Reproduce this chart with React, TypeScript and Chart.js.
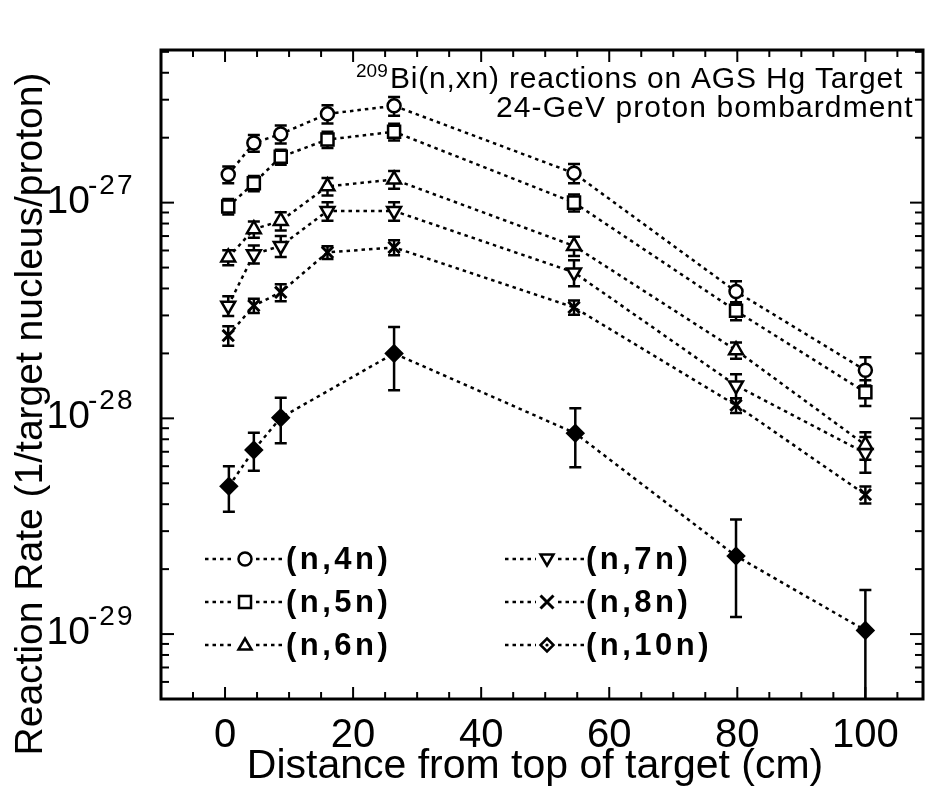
import React, { useEffect, useRef } from "react";
import { Chart, registerables } from "chart.js";

Chart.register(...registerables);

// ---- data ----
const distances = [0.5, 4.5, 8.7, 16, 26.4, 54.5, 79.8, 100];
const distancesN10 = [0.6, 4.5, 8.7, 26.4, 54.7, 79.8, 100];

const rateN4 = [1.35e-27, 1.89e-27, 2.08e-27, 2.58e-27, 2.81e-27, 1.37e-27, 3.87e-28, 1.67e-28];
const errN4 = [1.2e-28, 1.7e-28, 2.0e-28, 2.5e-28, 2.8e-28, 1.4e-28, 4.5e-29, 2.5e-29];

const rateN5 = [9.6e-28, 1.23e-27, 1.63e-27, 1.96e-27, 2.13e-27, 1.0e-27, 3.15e-28, 1.32e-28];
const errN5 = [8e-29, 1.0e-28, 1.3e-28, 1.7e-28, 1.9e-28, 9e-29, 3e-29, 1.8e-29];

const rateN6 = [5.57e-28, 7.53e-28, 8.23e-28, 1.19e-27, 1.28e-27, 6.3e-28, 2.07e-28, 7.53e-29];
const errN6 = [4.5e-29, 6.5e-29, 8e-29, 1.1e-28, 1.2e-28, 6.5e-29, 1.8e-29, 1.1e-29];

const rateN7 = [3.33e-28, 5.77e-28, 6.3e-28, 9.15e-28, 9.15e-28, 4.75e-28, 1.42e-28, 6.9e-29];
const errN7 = [3.5e-29, 5.5e-29, 7e-29, 9e-29, 9e-29, 6.5e-29, 1.8e-29, 1.3e-29];

const rateN8 = [2.42e-28, 3.33e-28, 3.84e-28, 5.88e-28, 6.2e-28, 3.27e-28, 1.15e-28, 4.43e-29];
const errN8 = [2.5e-29, 2.5e-29, 3.5e-29, 4e-29, 5e-29, 2.5e-29, 9e-30, 4e-30];

const rateN10 = [4.84e-29, 7.14e-29, 1.007e-28, 2.0e-28, 8.53e-29, 2.3e-29, 1.04e-29];
const errN10 = [1.15e-29, 1.43e-29, 2.4e-29, 6.5e-29, 2.6e-29, 1.1e-29, 5.6e-30];

const seriesLabels = ["(n,4n)", "(n,5n)", "(n,6n)", "(n,7n)", "(n,8n)", "(n,10n)"];
const seriesMarkers = ["circle", "square", "triangle", "triangleDown", "cross", "diamond"];

const xTickLabels = [0, 20, 40, 60, 80, 100];
const xMinorStep = 5;
const yTickExponents = [-27, -28, -29];

const titleSup = "209";
const titleLine1 = "Bi(n,xn) reactions on AGS Hg Target";
const titleLine2 = "24-GeV proton bombardment";
const xTitle = "Distance from top of target (cm)";
const yTitle = "Reaction Rate (1/target nucleus/proton)";

const FONT = '"Liberation Sans", Arial, Helvetica, sans-serif';

function drawMarker(ctx: CanvasRenderingContext2D, kind: string, x: number, y: number, s: number) {
  ctx.save();
  ctx.lineWidth = 2.5;
  ctx.strokeStyle = "#000";
  ctx.fillStyle = "#fff";
  ctx.setLineDash([]);
  ctx.beginPath();
  if (kind === "circle") {
    ctx.arc(x, y, s, 0, Math.PI * 2);
    ctx.fill();
    ctx.stroke();
  } else if (kind === "square") {
    ctx.rect(x - s, y - s, 2 * s, 2 * s);
    ctx.fill();
    ctx.stroke();
  } else if (kind === "triangle") {
    ctx.moveTo(x, y - s);
    ctx.lineTo(x + s, y + s * 0.7);
    ctx.lineTo(x - s, y + s * 0.7);
    ctx.closePath();
    ctx.fill();
    ctx.stroke();
  } else if (kind === "triangleDown") {
    ctx.moveTo(x, y + s);
    ctx.lineTo(x + s, y - s * 0.7);
    ctx.lineTo(x - s, y - s * 0.7);
    ctx.closePath();
    ctx.fill();
    ctx.stroke();
  } else if (kind === "cross") {
    ctx.lineWidth = 3;
    ctx.moveTo(x - s, y - s);
    ctx.lineTo(x + s, y + s);
    ctx.moveTo(x + s, y - s);
    ctx.lineTo(x - s, y + s);
    ctx.stroke();
  } else if (kind === "diamond") {
    ctx.moveTo(x, y - s);
    ctx.lineTo(x + s, y);
    ctx.lineTo(x, y + s);
    ctx.lineTo(x - s, y);
    ctx.closePath();
    ctx.fill();
    ctx.stroke();
    ctx.beginPath();
    ctx.fillStyle = "#000";
    ctx.arc(x, y, 1.6, 0, Math.PI * 2);
    ctx.fill();
  }
  ctx.restore();
}

const seriesX = [distances, distances, distances, distances, distances, distancesN10];
const seriesY = [rateN4, rateN5, rateN6, rateN7, rateN8, rateN10];
const seriesErr = [errN4, errN5, errN6, errN7, errN8, errN10];

const errorBarPlugin = {
  id: "errorBars",
  beforeDatasetsDraw(chart: any) {
    const { ctx, chartArea: a, scales } = chart;
    const xs = scales.x;
    const ys = scales.y;
    ctx.save();
    ctx.beginPath();
    ctx.rect(a.left, a.top, a.right - a.left, a.bottom - a.top);
    ctx.clip();
    ctx.strokeStyle = "#000";
    ctx.lineWidth = 2.5;
    ctx.setLineDash([]);
    seriesY.forEach((vals, i) => {
      vals.forEach((v, j) => {
        const e = seriesErr[i][j];
        const px = xs.getPixelForValue(seriesX[i][j]);
        const top = ys.getPixelForValue(v + e);
        const lowV = v - e;
        const bot = lowV > 0 ? ys.getPixelForValue(lowV) : a.bottom + 20;
        ctx.beginPath();
        ctx.moveTo(px, top);
        ctx.lineTo(px, bot);
        ctx.moveTo(px - 6, top);
        ctx.lineTo(px + 6, top);
        ctx.moveTo(px - 6, bot);
        ctx.lineTo(px + 6, bot);
        ctx.stroke();
      });
    });
    ctx.restore();
  },
};

const decorPlugin = {
  id: "decor",
  afterDraw(chart: any) {
    const { ctx, chartArea: a, scales } = chart;
    const xs = scales.x;
    const ys = scales.y;
    ctx.save();
    ctx.strokeStyle = "#000";
    ctx.fillStyle = "#000";
    ctx.setLineDash([]);

    // frame
    ctx.lineWidth = 3;
    ctx.strokeRect(a.left, a.top, a.right - a.left, a.bottom - a.top);

    // x ticks (inward, top and bottom)
    ctx.lineWidth = 2;
    const line = (x1: number, y1: number, x2: number, y2: number) => {
      ctx.beginPath();
      ctx.moveTo(x1, y1);
      ctx.lineTo(x2, y2);
      ctx.stroke();
    };
    for (let v = Math.ceil(xs.min / xMinorStep) * xMinorStep; v <= xs.max; v += xMinorStep) {
      const px = xs.getPixelForValue(v);
      const major = xTickLabels.includes(v);
      const len = major ? 12 : 7;
      line(px, a.bottom, px, a.bottom - len);
      line(px, a.top, px, a.top + len);
    }
    // y ticks (log)
    const minE = Math.floor(Math.log10(ys.min));
    const maxE = Math.ceil(Math.log10(ys.max));
    for (let e = minE; e <= maxE; e++) {
      for (let m = 1; m <= 9; m++) {
        const v = m * Math.pow(10, e);
        if (v < ys.min || v > ys.max) continue;
        const py = ys.getPixelForValue(v);
        const len = m === 1 ? 13 : 8;
        line(a.left, py, a.left + len, py);
        line(a.right, py, a.right - len, py);
      }
    }

    // x tick labels
    ctx.font = `40px ${FONT}`;
    ctx.textAlign = "center";
    ctx.textBaseline = "alphabetic";
    xTickLabels.forEach((v) => {
      ctx.fillText(String(v), xs.getPixelForValue(v), 747);
    });

    // y tick labels 10^exp
    yTickExponents.forEach((e) => {
      const py = ys.getPixelForValue(Math.pow(10, e));
      ctx.font = `39px ${FONT}`;
      ctx.textAlign = "right";
      ctx.fillText("10", 90, py + 10);
      ctx.font = `28px ${FONT}`;
      ctx.textAlign = "left";
      (ctx as any).letterSpacing = "2px";
      ctx.fillText(String(e), 88, py - 9);
      (ctx as any).letterSpacing = "0px";
    });

    // axis titles
    ctx.font = `41px ${FONT}`;
    ctx.textAlign = "center";
    ctx.fillText(xTitle, 535, 778);
    ctx.save();
    ctx.translate(42, 414);
    ctx.rotate(-Math.PI / 2);
    ctx.font = `39px ${FONT}`;
    ctx.fillText(yTitle, 0, 0);
    ctx.restore();

    // in-plot title
    ctx.textAlign = "left";
    ctx.font = `19px ${FONT}`;
    ctx.fillText(titleSup, 356, 77);
    ctx.font = `30px ${FONT}`;
    (ctx as any).letterSpacing = "0.8px";
    ctx.fillText(titleLine1, 390, 88);
    (ctx as any).letterSpacing = "1.1px";
    ctx.fillText(titleLine2, 496, 117);
    (ctx as any).letterSpacing = "0px";

    // legend
    const rows = [559, 602, 645];
    const cols = [
      { l1: 205, l2: 234, m: 245, r1: 256, r2: 283, t: 286 },
      { l1: 505, l2: 536, m: 547, r1: 558, r2: 585, t: 586 },
    ];
    seriesLabels.forEach((lab, i) => {
      const c = cols[Math.floor(i / 3)];
      const y = rows[i % 3];
      ctx.save();
      ctx.lineWidth = 2.5;
      ctx.setLineDash([3.5, 4]);
      line(c.l1, y, c.l2, y);
      line(c.r1, y, c.r2, y);
      ctx.restore();
      drawMarker(ctx, seriesMarkers[i], c.m, y, seriesMarkers[i] === "square" ? 6 : 6.5);
      ctx.font = `bold 31px ${FONT}`;
      ctx.textAlign = "left";
      (ctx as any).letterSpacing = "3.5px";
      ctx.fillText(lab, c.t, y + 10);
      (ctx as any).letterSpacing = "0px";
    });

    ctx.restore();
  },
};

const pointStyleFor: Record<string, any> = {
  circle: { pointStyle: "circle", pointRadius: 6.5, pointRotation: 0, bg: "#fff" },
  square: { pointStyle: "rect", pointRadius: 8.5, pointRotation: 0, bg: "#fff" },
  triangle: { pointStyle: "triangle", pointRadius: 8, pointRotation: 0, bg: "#fff" },
  triangleDown: { pointStyle: "triangle", pointRadius: 8, pointRotation: 180, bg: "#fff" },
  cross: { pointStyle: "crossRot", pointRadius: 8, pointRotation: 0, bg: "#000" },
  diamond: { pointStyle: "rectRot", pointRadius: 8, pointRotation: 0, bg: "#000" },
};

export default function App() {
  const ref = useRef<HTMLCanvasElement | null>(null);

  useEffect(() => {
    document.body.style.margin = "0";
    const canvas = ref.current;
    if (!canvas) return;
    const datasets = seriesLabels.map((label, i) => {
      const st = pointStyleFor[seriesMarkers[i]];
      return {
        label,
        data: seriesY[i].map((v, j) => ({ x: seriesX[i][j], y: v })),
        borderColor: "#000",
        borderWidth: 2.5,
        borderDash: [3.5, 4],
        borderCapStyle: "butt",
        tension: 0,
        fill: false,
        pointStyle: st.pointStyle,
        pointRadius: st.pointRadius,
        pointRotation: st.pointRotation,
        pointBackgroundColor: st.bg,
        pointBorderColor: "#000",
        pointBorderWidth: seriesMarkers[i] === "cross" ? 3 : 2.5,
        pointHoverRadius: st.pointRadius,
      };
    });
    const chart = new Chart(canvas, {
      type: "line",
      data: { datasets } as any,
      options: {
        responsive: false,
        maintainAspectRatio: false,
        animation: false,
        devicePixelRatio: 1,
        layout: { padding: { left: 161, right: 6, top: 50, bottom: 87 } },
        plugins: { legend: { display: false }, tooltip: { enabled: false } },
        events: [],
        scales: {
          x: { type: "linear", min: -10, max: 109, display: false },
          y: { type: "logarithmic", min: 5.2e-30, max: 5.1e-27, display: false },
        },
      } as any,
      plugins: [errorBarPlugin, decorPlugin],
    });
    return () => chart.destroy();
  }, []);

  return <canvas ref={ref} width={934} height={786} style={{ display: "block" }} />;
}
